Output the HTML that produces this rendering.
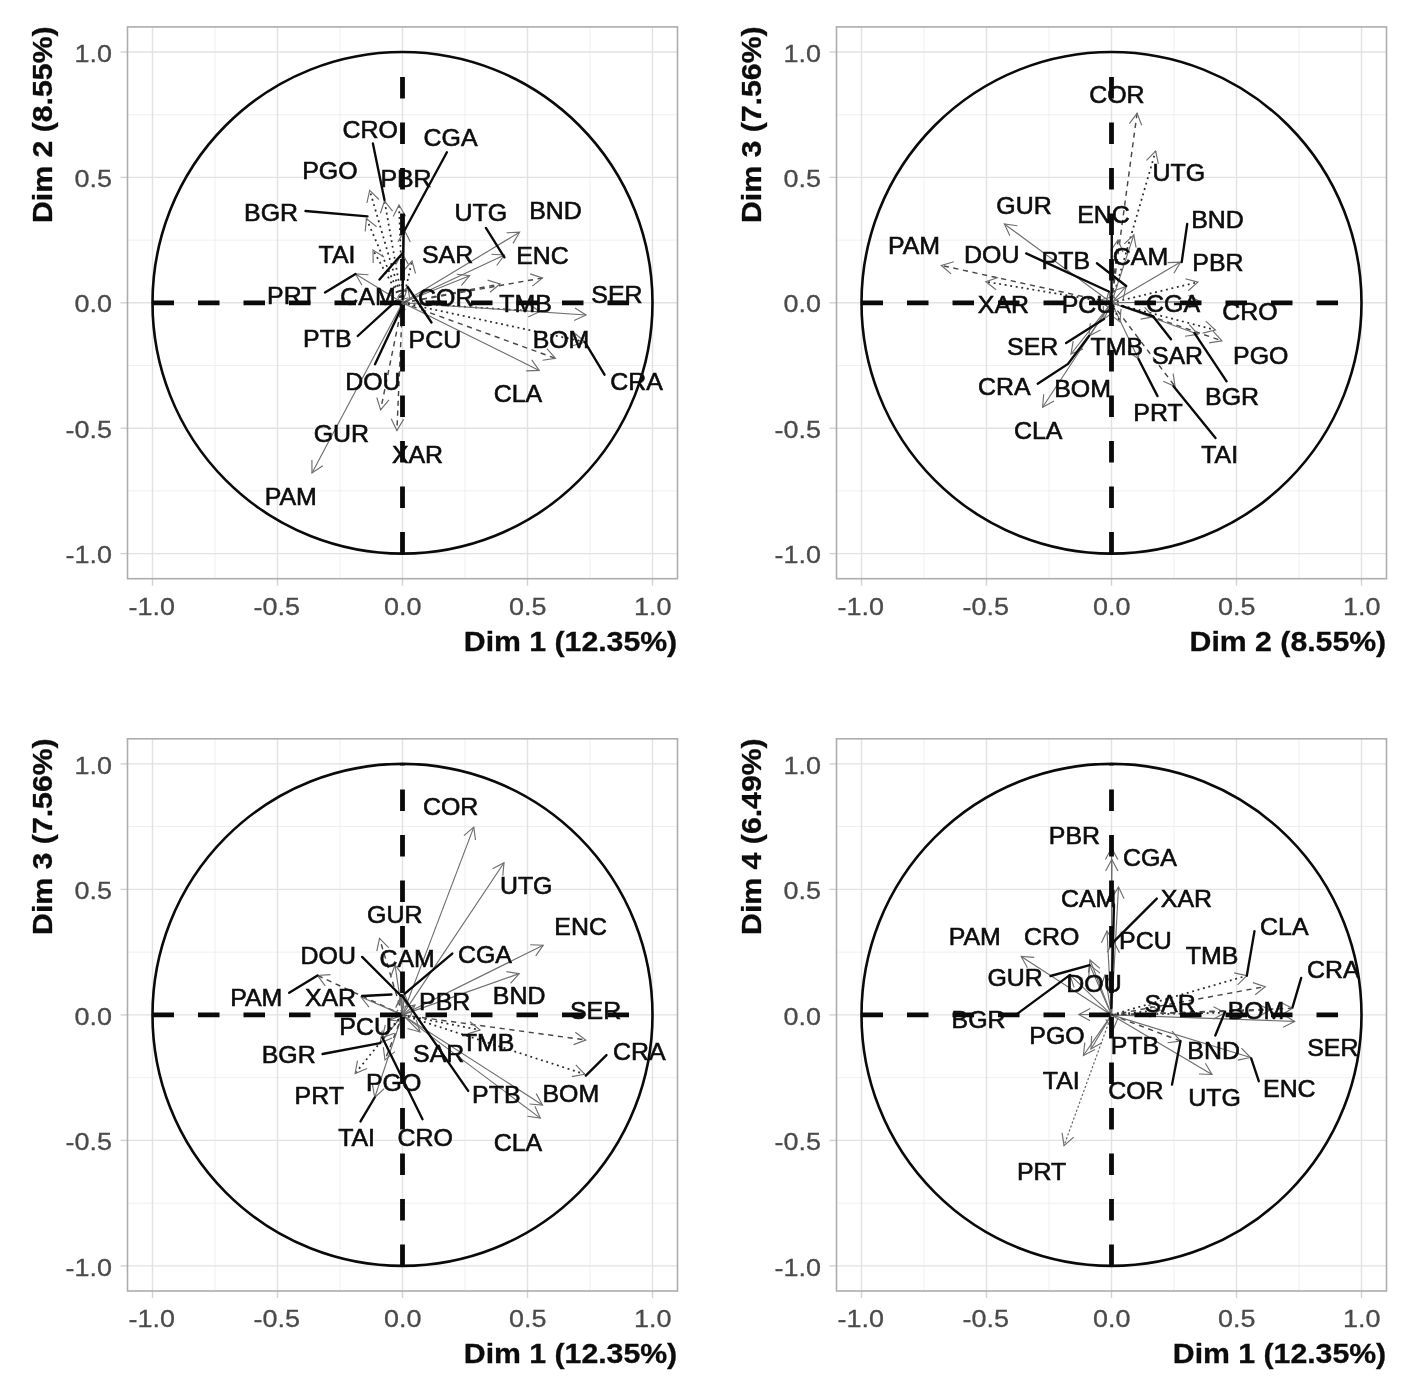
<!DOCTYPE html>
<html lang="en"><head><meta charset="utf-8"><title>PCA correlation circles</title>
<style>
html,body{margin:0;padding:0;background:#fff}
body{width:1417px;height:1379px;overflow:hidden}
svg{display:block;filter:blur(.45px);font-family:"Liberation Sans",sans-serif}
.gm{stroke:#efefef;stroke-width:1;fill:none}
.gM{stroke:#e2e2e2;stroke-width:1.4;fill:none}
.tk{stroke:#d2d2d2;stroke-width:1.4;fill:none}
.bd{stroke:#adadad;stroke-width:1.6;fill:none}
.tl{font-size:24.5px;fill:#4a4a4a;stroke:#4a4a4a;stroke-width:.3}
.at{font-size:27.5px;font-weight:bold;fill:#0c0c0c;stroke:#0c0c0c;stroke-width:.3}
.lb{font-size:24.2px;fill:#0c0c0c;stroke:#0c0c0c;stroke-width:.6}
.ci{stroke:#0a0a0a;stroke-width:2.6;fill:none}
.ax{stroke:#0a0a0a;stroke-width:4.8;stroke-dasharray:21.5 24;fill:none}
.cn{stroke:#0a0a0a;stroke-width:2.35;fill:none;stroke-linecap:round}
.as{stroke:#6e6e6e;stroke-width:1.15;fill:none}
.ad{stroke:#484848;stroke-width:1.45;stroke-dasharray:5.2 4.6;fill:none}
.ao{stroke:#2c2c2c;stroke-width:1.75;stroke-dasharray:1.9 3.7;fill:none}
.af{stroke:#666;stroke-width:1.2;stroke-dasharray:2.2 2;fill:none}
.ah{stroke:#6e6e6e;stroke-width:1.15;fill:none}
</style></head><body>
<svg width="1417" height="1379" viewBox="0 0 1417 1379">
<rect width="1417" height="1379" fill="#fff"/>
<g>
<path class="gm" d="M215 26.9V578.7"/>
<path class="gm" d="M127.5 490.9H677.5"/>
<path class="gm" d="M340 26.9V578.7"/>
<path class="gm" d="M127.5 365.5H677.5"/>
<path class="gm" d="M465 26.9V578.7"/>
<path class="gm" d="M127.5 240.1H677.5"/>
<path class="gm" d="M590 26.9V578.7"/>
<path class="gm" d="M127.5 114.7H677.5"/>
<path class="gM" d="M152.5 26.9V578.7"/>
<path class="gM" d="M127.5 553.6H677.5"/>
<path class="tk" d="M152.5 578.7v7"/>
<path class="tk" d="M127.5 553.6h-7"/>
<text class="tl" text-anchor="middle" transform="translate(151.7 615.1) scale(1.1 1)">-1.0</text>
<text class="tl" text-anchor="end" transform="translate(112 563.2) scale(1.1 1)">-1.0</text>
<path class="gM" d="M277.5 26.9V578.7"/>
<path class="gM" d="M127.5 428.2H677.5"/>
<path class="tk" d="M277.5 578.7v7"/>
<path class="tk" d="M127.5 428.2h-7"/>
<text class="tl" text-anchor="middle" transform="translate(276.7 615.1) scale(1.1 1)">-0.5</text>
<text class="tl" text-anchor="end" transform="translate(112 437.8) scale(1.1 1)">-0.5</text>
<path class="gM" d="M402.5 26.9V578.7"/>
<path class="gM" d="M127.5 302.8H677.5"/>
<path class="tk" d="M402.5 578.7v7"/>
<path class="tk" d="M127.5 302.8h-7"/>
<text class="tl" text-anchor="middle" transform="translate(402.8 615.1) scale(1.1 1)">0.0</text>
<text class="tl" text-anchor="end" transform="translate(112 312.4) scale(1.1 1)">0.0</text>
<path class="gM" d="M527.5 26.9V578.7"/>
<path class="gM" d="M127.5 177.4H677.5"/>
<path class="tk" d="M527.5 578.7v7"/>
<path class="tk" d="M127.5 177.4h-7"/>
<text class="tl" text-anchor="middle" transform="translate(527.8 615.1) scale(1.1 1)">0.5</text>
<text class="tl" text-anchor="end" transform="translate(112 187) scale(1.1 1)">0.5</text>
<path class="gM" d="M652.5 26.9V578.7"/>
<path class="gM" d="M127.5 52H677.5"/>
<path class="tk" d="M652.5 578.7v7"/>
<path class="tk" d="M127.5 52h-7"/>
<text class="tl" text-anchor="middle" transform="translate(652.8 615.1) scale(1.1 1)">1.0</text>
<text class="tl" text-anchor="end" transform="translate(112 61.6) scale(1.1 1)">1.0</text>
<rect class="bd" x="127.5" y="26.9" width="550" height="551.8"/>
<path class="ao" d="M402.5 302.8L369.7 190.3"/><path class="ah" d="M378.9 199.5L369.7 190.3L366.9 203"/>
<path class="ao" d="M402.5 302.8L384.5 201"/><path class="ah" d="M392.6 211.2L384.5 201L380.4 213.3"/>
<path class="ao" d="M402.5 302.8L366.4 218.6"/><path class="ah" d="M376.6 226.7L366.4 218.6L365.2 231.5"/>
<path class="ao" d="M402.5 302.8L399 205"/><path class="ah" d="M405.6 216.2L399 205L393.2 216.6"/>
<path class="ao" d="M402.5 302.8L373 250"/><path class="ah" d="M384 256.9L373 250L373.2 263"/>
<path class="as" d="M402.5 302.8L355.5 274"/><path class="ah" d="M368.5 274.7L355.5 274L362 285.3"/>
<path class="as" d="M402.5 302.8L402 253"/><path class="ah" d="M408.3 264.4L402 253L395.9 264.5"/>
<path class="as" d="M402.5 302.8L404.5 230.5"/><path class="ah" d="M410.4 242.1L404.5 230.5L398 241.7"/>
<path class="ao" d="M402.5 302.8L412 261"/><path class="ah" d="M415.5 273.5L412 261L403.4 270.8"/>
<path class="as" d="M402.5 302.8L469.6 275.7"/><path class="ah" d="M461.3 285.7L469.6 275.7L456.7 274.2"/>
<path class="as" d="M402.5 302.8L504.4 255"/><path class="ah" d="M496.7 265.5L504.4 255L491.4 254.2"/>
<path class="as" d="M402.5 302.8L519.6 232.2"/><path class="ah" d="M513 243.4L519.6 232.2L506.6 232.8"/>
<path class="ad" d="M402.5 302.8L542.5 278"/><path class="ah" d="M532.3 286.1L542.5 278L530.2 273.9"/>
<path class="ad" d="M402.5 302.8L500 284"/><path class="ah" d="M490 292.3L500 284L487.6 280.1"/>
<path class="ao" d="M402.5 302.8L540 311.5"/><path class="ah" d="M528.2 317L540 311.5L529 304.6"/>
<path class="as" d="M402.5 302.8L586 315"/><path class="ah" d="M574.2 320.4L586 315L575 308.1"/>
<path class="ad" d="M402.5 302.8L555.5 358.4"/><path class="ah" d="M542.6 360.3L555.5 358.4L546.9 348.7"/>
<path class="ao" d="M402.5 302.8L585 342"/><path class="ah" d="M572.5 345.7L585 342L575.1 333.5"/>
<path class="as" d="M402.5 302.8L539.2 370.4"/><path class="ah" d="M526.2 370.9L539.2 370.4L531.7 359.8"/>
<path class="as" d="M402.5 302.8L407.7 287"/><path class="ah" d="M410 299.8L407.7 287L398.2 295.9"/>
<path class="as" d="M402.5 302.8L395.8 301.2"/><path class="ah" d="M408.4 297.8L395.8 301.2L405.5 309.9"/>
<path class="as" d="M402.5 302.8L401 309"/><path class="ah" d="M397.7 296.4L401 309L409.7 299.4"/>
<path class="ad" d="M402.5 302.8L380.6 409.9"/><path class="ah" d="M376.8 397.5L380.6 409.9L389 399.9"/>
<path class="ad" d="M402.5 302.8L396.9 430.5"/><path class="ah" d="M391.2 418.8L396.9 430.5L403.6 419.4"/>
<path class="as" d="M402.5 302.8L312 473"/><path class="ah" d="M311.9 460L312 473L322.8 465.8"/>
<ellipse class="ci" cx="402.5" cy="302.8" rx="250" ry="250.8"/>
<path class="ax" d="M152.5 302.8H652.5"/>
<path class="ax" d="M402.5 553.6V52"/>
<path class="cn" d="M372.9 143.5L384.5 200"/>
<path class="cn" d="M403.4 236L402.6 299"/>
<path class="cn" d="M446.9 152.2L404.5 230.5"/>
<path class="cn" d="M305.5 211L367.5 216.4"/>
<path class="cn" d="M485.9 227.9L504.4 257.3"/>
<path class="cn" d="M325 292.5L355.5 274"/>
<path class="cn" d="M379.5 279.5L402.3 253.4"/>
<path class="cn" d="M357.7 336L395.8 301.2"/>
<path class="cn" d="M431.5 322.5L407.7 287"/>
<path class="cn" d="M375 364.3L401 308.8"/>
<path class="cn" d="M584.9 342.1L604.5 374.7"/>
<text class="lb" text-anchor="middle" transform="translate(370.1 138.1) scale(1.03 1)">CRO</text>
<text class="lb" text-anchor="middle" transform="translate(450.6 145.7) scale(1.03 1)">CGA</text>
<text class="lb" text-anchor="middle" transform="translate(329.9 179.4) scale(1.03 1)">PGO</text>
<text class="lb" text-anchor="middle" transform="translate(406 187.4) scale(1.03 1)">PBR</text>
<text class="lb" text-anchor="middle" transform="translate(271.1 221.2) scale(1.03 1)">BGR</text>
<text class="lb" text-anchor="middle" transform="translate(480.9 220.7) scale(1.03 1)">UTG</text>
<text class="lb" text-anchor="middle" transform="translate(555.5 218.5) scale(1.03 1)">BND</text>
<text class="lb" text-anchor="middle" transform="translate(337 262.5) scale(1.03 1)">TAI</text>
<text class="lb" text-anchor="middle" transform="translate(447.6 263.3) scale(1.03 1)">SAR</text>
<text class="lb" text-anchor="middle" transform="translate(542.5 264.2) scale(1.03 1)">ENC</text>
<text class="lb" text-anchor="middle" transform="translate(291.8 303.8) scale(1.03 1)">PRT</text>
<text class="lb" text-anchor="middle" transform="translate(368 304.7) scale(1.03 1)">CAM</text>
<text class="lb" text-anchor="middle" transform="translate(445.7 306.2) scale(1.03 1)">COR</text>
<text class="lb" text-anchor="middle" transform="translate(525.5 312.1) scale(1.03 1)">TMB</text>
<text class="lb" text-anchor="middle" transform="translate(616.9 303.4) scale(1.03 1)">SER</text>
<text class="lb" text-anchor="middle" transform="translate(327.3 346.7) scale(1.03 1)">PTB</text>
<text class="lb" text-anchor="middle" transform="translate(434.9 347.9) scale(1.03 1)">PCU</text>
<text class="lb" text-anchor="middle" transform="translate(561 348) scale(1.03 1)">BOM</text>
<text class="lb" text-anchor="middle" transform="translate(372.9 390) scale(1.03 1)">DOU</text>
<text class="lb" text-anchor="middle" transform="translate(517.9 402.3) scale(1.03 1)">CLA</text>
<text class="lb" text-anchor="middle" transform="translate(636.5 390.4) scale(1.03 1)">CRA</text>
<text class="lb" text-anchor="middle" transform="translate(341.4 441.8) scale(1.03 1)">GUR</text>
<text class="lb" text-anchor="middle" transform="translate(417.5 462.5) scale(1.03 1)">XAR</text>
<text class="lb" text-anchor="middle" transform="translate(290.7 504.9) scale(1.03 1)">PAM</text>
<text class="at" text-anchor="end" transform="translate(677.2 650.7) scale(1.1 1)">Dim 1 (12.35%)</text>
<text class="at" text-anchor="end" transform="translate(52 26.4) rotate(-90) scale(1.1 1)">Dim 2 (8.55%)</text>
</g>
<g>
<path class="gm" d="M924 26.9V578.7"/>
<path class="gm" d="M836.5 490.9H1386.5"/>
<path class="gm" d="M1049 26.9V578.7"/>
<path class="gm" d="M836.5 365.5H1386.5"/>
<path class="gm" d="M1174 26.9V578.7"/>
<path class="gm" d="M836.5 240.1H1386.5"/>
<path class="gm" d="M1299 26.9V578.7"/>
<path class="gm" d="M836.5 114.7H1386.5"/>
<path class="gM" d="M861.5 26.9V578.7"/>
<path class="gM" d="M836.5 553.6H1386.5"/>
<path class="tk" d="M861.5 578.7v7"/>
<path class="tk" d="M836.5 553.6h-7"/>
<text class="tl" text-anchor="middle" transform="translate(860.7 615.1) scale(1.1 1)">-1.0</text>
<text class="tl" text-anchor="end" transform="translate(821 563.2) scale(1.1 1)">-1.0</text>
<path class="gM" d="M986.5 26.9V578.7"/>
<path class="gM" d="M836.5 428.2H1386.5"/>
<path class="tk" d="M986.5 578.7v7"/>
<path class="tk" d="M836.5 428.2h-7"/>
<text class="tl" text-anchor="middle" transform="translate(985.7 615.1) scale(1.1 1)">-0.5</text>
<text class="tl" text-anchor="end" transform="translate(821 437.8) scale(1.1 1)">-0.5</text>
<path class="gM" d="M1111.5 26.9V578.7"/>
<path class="gM" d="M836.5 302.8H1386.5"/>
<path class="tk" d="M1111.5 578.7v7"/>
<path class="tk" d="M836.5 302.8h-7"/>
<text class="tl" text-anchor="middle" transform="translate(1111.8 615.1) scale(1.1 1)">0.0</text>
<text class="tl" text-anchor="end" transform="translate(821 312.4) scale(1.1 1)">0.0</text>
<path class="gM" d="M1236.5 26.9V578.7"/>
<path class="gM" d="M836.5 177.4H1386.5"/>
<path class="tk" d="M1236.5 578.7v7"/>
<path class="tk" d="M836.5 177.4h-7"/>
<text class="tl" text-anchor="middle" transform="translate(1236.8 615.1) scale(1.1 1)">0.5</text>
<text class="tl" text-anchor="end" transform="translate(821 187) scale(1.1 1)">0.5</text>
<path class="gM" d="M1361.5 26.9V578.7"/>
<path class="gM" d="M836.5 52H1386.5"/>
<path class="tk" d="M1361.5 578.7v7"/>
<path class="tk" d="M836.5 52h-7"/>
<text class="tl" text-anchor="middle" transform="translate(1361.8 615.1) scale(1.1 1)">1.0</text>
<text class="tl" text-anchor="end" transform="translate(821 61.6) scale(1.1 1)">1.0</text>
<rect class="bd" x="836.5" y="26.9" width="550" height="551.8"/>
<path class="ad" d="M1111.5 302.8L1137.1 113.1"/><path class="ah" d="M1141.7 125.3L1137.1 113.1L1129.4 123.6"/>
<path class="ao" d="M1111.5 302.8L1155.6 151.2"/><path class="ah" d="M1158.4 163.9L1155.6 151.2L1146.5 160.4"/>
<path class="as" d="M1111.5 302.8L1004.4 224"/><path class="ah" d="M1017.3 225.8L1004.4 224L1009.9 235.8"/>
<path class="ad" d="M1111.5 302.8L941.3 265.4"/><path class="ah" d="M953.8 261.8L941.3 265.4L951.1 273.9"/>
<path class="ao" d="M1111.5 302.8L985.9 281.7"/><path class="ah" d="M998.2 277.5L985.9 281.7L996.1 289.7"/>
<path class="as" d="M1111.5 302.8L1108.8 291.5"/><path class="ah" d="M1117.5 301.2L1108.8 291.5L1105.4 304.1"/>
<path class="as" d="M1111.5 302.8L1133.8 234.9"/><path class="ah" d="M1136.1 247.7L1133.8 234.9L1124.3 243.8"/>
<path class="ad" d="M1111.5 302.8L1118 240"/><path class="ah" d="M1123 252L1118 240L1110.7 250.7"/>
<path class="as" d="M1111.5 302.8L1180.6 262.1"/><path class="ah" d="M1173.9 273.2L1180.6 262.1L1167.6 262.6"/>
<path class="ao" d="M1111.5 302.8L1197.9 282.1"/><path class="ah" d="M1188.2 290.8L1197.9 282.1L1185.3 278.7"/>
<path class="as" d="M1111.5 302.8L1200 301.6"/><path class="ah" d="M1188.7 308L1200 301.6L1188.5 295.6"/>
<path class="ao" d="M1111.5 302.8L1215.3 330"/><path class="ah" d="M1202.7 333.1L1215.3 330L1205.8 321.1"/>
<path class="ad" d="M1111.5 302.8L1221.9 340.8"/><path class="ah" d="M1209.1 342.9L1221.9 340.8L1213.1 331.2"/>
<path class="as" d="M1111.5 302.8L1197.9 334.3"/><path class="ah" d="M1185 336.2L1197.9 334.3L1189.3 324.6"/>
<path class="as" d="M1111.5 302.8L1153.4 316.9"/><path class="ah" d="M1140.6 319.1L1153.4 316.9L1144.6 307.4"/>
<path class="ad" d="M1111.5 302.8L1175.1 386.5"/><path class="ah" d="M1163.2 381.2L1175.1 386.5L1173.1 373.7"/>
<path class="as" d="M1111.5 302.8L1138.5 359"/><path class="ah" d="M1128 351.4L1138.5 359L1139.1 346"/>
<path class="ao" d="M1111.5 302.8L1120 322"/><path class="ah" d="M1109.7 314.1L1120 322L1121 309"/>
<path class="as" d="M1111.5 302.8L1104 319"/><path class="ah" d="M1103.2 306L1104 319L1114.4 311.2"/>
<path class="as" d="M1111.5 302.8L1089 336"/><path class="ah" d="M1090.3 323.1L1089 336L1100.5 330"/>
<path class="as" d="M1111.5 302.8L1071 354"/><path class="ah" d="M1073.2 341.2L1071 354L1083 348.9"/>
<path class="as" d="M1111.5 302.8L1042.6 407.2"/><path class="ah" d="M1043.7 394.2L1042.6 407.2L1054.1 401.1"/>
<path class="as" d="M1111.5 302.8L1126.1 286.4"/><path class="ah" d="M1123.1 299.1L1126.1 286.4L1113.9 290.8"/>
<path class="as" d="M1111.5 302.8L1100 300"/><path class="ah" d="M1112.6 296.7L1100 300L1109.6 308.7"/>
<ellipse class="ci" cx="1111.5" cy="302.8" rx="250" ry="250.8"/>
<path class="ax" d="M861.5 302.8H1361.5"/>
<path class="ax" d="M1111.5 553.6V52"/>
<path class="cn" d="M1026.2 253.4L1108.8 291.5"/>
<path class="cn" d="M1111.8 234L1111.5 298"/>
<path class="cn" d="M1096.9 263.2L1126.2 286"/>
<path class="cn" d="M1187.2 224L1181.7 262.1"/>
<path class="cn" d="M1066.1 343L1104 319"/>
<path class="cn" d="M1037.7 383.7L1068 364L1089 336"/>
<path class="cn" d="M1138.5 359L1157.5 396.1"/>
<path class="cn" d="M1153 316.2L1171 339.3"/>
<path class="cn" d="M1122 306L1153.3 316.4"/>
<path class="cn" d="M1194.5 333.1L1226.6 381.3"/>
<path class="cn" d="M1173.5 386.2L1215.5 438.1"/>
<text class="lb" text-anchor="middle" transform="translate(1116.9 102.7) scale(1.03 1)">COR</text>
<text class="lb" text-anchor="middle" transform="translate(1178.8 181.4) scale(1.03 1)">UTG</text>
<text class="lb" text-anchor="middle" transform="translate(1024 213.6) scale(1.03 1)">GUR</text>
<text class="lb" text-anchor="middle" transform="translate(1103.5 222.5) scale(1.03 1)">ENC</text>
<text class="lb" text-anchor="middle" transform="translate(1217.5 228.1) scale(1.03 1)">BND</text>
<text class="lb" text-anchor="middle" transform="translate(914 253.8) scale(1.03 1)">PAM</text>
<text class="lb" text-anchor="middle" transform="translate(991.8 262.5) scale(1.03 1)">DOU</text>
<text class="lb" text-anchor="middle" transform="translate(1065.8 269.1) scale(1.03 1)">PTB</text>
<text class="lb" text-anchor="middle" transform="translate(1140.5 265.2) scale(1.03 1)">CAM</text>
<text class="lb" text-anchor="middle" transform="translate(1217.9 270.5) scale(1.03 1)">PBR</text>
<text class="lb" text-anchor="middle" transform="translate(1003.4 312.7) scale(1.03 1)">XAR</text>
<text class="lb" text-anchor="middle" transform="translate(1088 312.7) scale(1.03 1)">PCU</text>
<text class="lb" text-anchor="middle" transform="translate(1173 312) scale(1.03 1)">CGA</text>
<text class="lb" text-anchor="middle" transform="translate(1250 320.3) scale(1.03 1)">CRO</text>
<text class="lb" text-anchor="middle" transform="translate(1032.7 354.7) scale(1.03 1)">SER</text>
<text class="lb" text-anchor="middle" transform="translate(1116.7 355) scale(1.03 1)">TMB</text>
<text class="lb" text-anchor="middle" transform="translate(1177.5 363.7) scale(1.03 1)">SAR</text>
<text class="lb" text-anchor="middle" transform="translate(1260.7 363.7) scale(1.03 1)">PGO</text>
<text class="lb" text-anchor="middle" transform="translate(1004.3 395.4) scale(1.03 1)">CRA</text>
<text class="lb" text-anchor="middle" transform="translate(1082.6 396.7) scale(1.03 1)">BOM</text>
<text class="lb" text-anchor="middle" transform="translate(1232 405.3) scale(1.03 1)">BGR</text>
<text class="lb" text-anchor="middle" transform="translate(1158 421.3) scale(1.03 1)">PRT</text>
<text class="lb" text-anchor="middle" transform="translate(1038.2 438.6) scale(1.03 1)">CLA</text>
<text class="lb" text-anchor="middle" transform="translate(1219.7 462.8) scale(1.03 1)">TAI</text>
<text class="at" text-anchor="end" transform="translate(1386.2 650.7) scale(1.1 1)">Dim 2 (8.55%)</text>
<text class="at" text-anchor="end" transform="translate(761 26.4) rotate(-90) scale(1.1 1)">Dim 3 (7.56%)</text>
</g>
<g>
<path class="gm" d="M215 738.8V1291"/>
<path class="gm" d="M127.5 1203.2H677.5"/>
<path class="gm" d="M340 738.8V1291"/>
<path class="gm" d="M127.5 1077.7H677.5"/>
<path class="gm" d="M465 738.8V1291"/>
<path class="gm" d="M127.5 952.1H677.5"/>
<path class="gm" d="M590 738.8V1291"/>
<path class="gm" d="M127.5 826.6H677.5"/>
<path class="gM" d="M152.5 738.8V1291"/>
<path class="gM" d="M127.5 1265.9H677.5"/>
<path class="tk" d="M152.5 1291v7"/>
<path class="tk" d="M127.5 1265.9h-7"/>
<text class="tl" text-anchor="middle" transform="translate(151.7 1327.4) scale(1.1 1)">-1.0</text>
<text class="tl" text-anchor="end" transform="translate(112 1275.5) scale(1.1 1)">-1.0</text>
<path class="gM" d="M277.5 738.8V1291"/>
<path class="gM" d="M127.5 1140.4H677.5"/>
<path class="tk" d="M277.5 1291v7"/>
<path class="tk" d="M127.5 1140.4h-7"/>
<text class="tl" text-anchor="middle" transform="translate(276.7 1327.4) scale(1.1 1)">-0.5</text>
<text class="tl" text-anchor="end" transform="translate(112 1150) scale(1.1 1)">-0.5</text>
<path class="gM" d="M402.5 738.8V1291"/>
<path class="gM" d="M127.5 1014.9H677.5"/>
<path class="tk" d="M402.5 1291v7"/>
<path class="tk" d="M127.5 1014.9h-7"/>
<text class="tl" text-anchor="middle" transform="translate(402.8 1327.4) scale(1.1 1)">0.0</text>
<text class="tl" text-anchor="end" transform="translate(112 1024.5) scale(1.1 1)">0.0</text>
<path class="gM" d="M527.5 738.8V1291"/>
<path class="gM" d="M127.5 889.4H677.5"/>
<path class="tk" d="M527.5 1291v7"/>
<path class="tk" d="M127.5 889.4h-7"/>
<text class="tl" text-anchor="middle" transform="translate(527.8 1327.4) scale(1.1 1)">0.5</text>
<text class="tl" text-anchor="end" transform="translate(112 899) scale(1.1 1)">0.5</text>
<path class="gM" d="M652.5 738.8V1291"/>
<path class="gM" d="M127.5 763.9H677.5"/>
<path class="tk" d="M652.5 1291v7"/>
<path class="tk" d="M127.5 763.9h-7"/>
<text class="tl" text-anchor="middle" transform="translate(652.8 1327.4) scale(1.1 1)">1.0</text>
<text class="tl" text-anchor="end" transform="translate(112 773.5) scale(1.1 1)">1.0</text>
<rect class="bd" x="127.5" y="738.8" width="550" height="552.2"/>
<path class="as" d="M402.5 1014.9L473.8 827.1"/><path class="ah" d="M475.5 840L473.8 827.1L463.9 835.6"/>
<path class="as" d="M402.5 1014.9L504 862.7"/><path class="ah" d="M502.8 875.6L504 862.7L492.5 868.8"/>
<path class="as" d="M402.5 1014.9L543.2 945.3"/><path class="ah" d="M535.7 955.9L543.2 945.3L530.2 944.8"/>
<path class="as" d="M402.5 1014.9L519.2 973.6"/><path class="ah" d="M510.5 983.3L519.2 973.6L506.4 971.6"/>
<path class="as" d="M402.5 1014.9L404.5 993.9"/><path class="ah" d="M409.6 1005.9L404.5 993.9L397.2 1004.7"/>
<path class="ad" d="M402.5 1014.9L585.8 1040"/><path class="ah" d="M573.6 1044.6L585.8 1040L575.3 1032.3"/>
<path class="ao" d="M402.5 1014.9L584.7 1074.2"/><path class="ah" d="M571.9 1076.6L584.7 1074.2L575.8 1064.8"/>
<path class="as" d="M402.5 1014.9L542.5 1105"/><path class="ah" d="M529.5 1104L542.5 1105L536.2 1093.6"/>
<path class="as" d="M402.5 1014.9L540.3 1118.1"/><path class="ah" d="M527.4 1116.2L540.3 1118.1L534.9 1106.3"/>
<path class="ao" d="M402.5 1014.9L480 1030"/><path class="ah" d="M467.6 1033.9L480 1030L470 1021.7"/>
<path class="as" d="M402.5 1014.9L420 1032"/><path class="ah" d="M407.5 1028.5L420 1032L416.2 1019.6"/>
<path class="as" d="M402.5 1014.9L401.9 995.2"/><path class="ah" d="M408.4 1006.4L401.9 995.2L396 1006.8"/>
<path class="as" d="M402.5 1014.9L415 1005"/><path class="ah" d="M409.9 1017L415 1005L402.2 1007.2"/>
<path class="ad" d="M402.5 1014.9L379.5 938.4"/><path class="ah" d="M388.7 947.6L379.5 938.4L376.8 951.1"/>
<path class="as" d="M402.5 1014.9L395 965"/><path class="ah" d="M402.8 975.4L395 965L390.6 977.2"/>
<path class="as" d="M402.5 1014.9L401.2 996"/><path class="ah" d="M408.2 1007L401.2 996L395.8 1007.8"/>
<path class="ad" d="M402.5 1014.9L317.5 975.4"/><path class="ah" d="M330.5 974.6L317.5 975.4L325.2 985.8"/>
<path class="as" d="M402.5 1014.9L361 997"/><path class="ah" d="M373.9 995.8L361 997L369 1007.2"/>
<path class="as" d="M402.5 1014.9L390 1020"/><path class="ah" d="M398.2 1009.9L390 1020L402.9 1021.4"/>
<path class="as" d="M402.5 1014.9L380.1 1043.1"/><path class="ah" d="M382.3 1030.3L380.1 1043.1L392.1 1038"/>
<path class="ao" d="M402.5 1014.9L355.1 1073.5"/><path class="ah" d="M357.5 1060.7L355.1 1073.5L367.1 1068.5"/>
<path class="as" d="M402.5 1014.9L374.7 1097.5"/><path class="ah" d="M372.5 1084.7L374.7 1097.5L384.2 1088.7"/>
<path class="ad" d="M402.5 1014.9L385 1060"/><path class="ah" d="M383.3 1047.1L385 1060L394.9 1051.6"/>
<path class="ao" d="M402.5 1014.9L382.3 1037.6"/><path class="ah" d="M385.3 1024.9L382.3 1037.6L394.5 1033.2"/>
<ellipse class="ci" cx="402.5" cy="1014.9" rx="250" ry="251"/>
<path class="ax" d="M152.5 1014.9H652.5"/>
<path class="ax" d="M402.5 1265.9V763.9"/>
<path class="cn" d="M289.2 992.8L317.5 975.4"/>
<path class="cn" d="M362.1 956.9L401.2 996"/>
<path class="cn" d="M452.3 953.6L404.5 993.9"/>
<path class="cn" d="M362.1 996L391.4 994.5"/>
<path class="cn" d="M322.5 1054L380.1 1043.1"/>
<path class="cn" d="M360.5 1121.4L374.7 1097.5"/>
<path class="cn" d="M422.5 1119.2L382.3 1037.6"/>
<path class="cn" d="M468.2 1090.9L401.9 995.2"/>
<path class="cn" d="M606.5 1055.1L585.8 1075.7"/>
<text class="lb" text-anchor="middle" transform="translate(450.6 815) scale(1.03 1)">COR</text>
<text class="lb" text-anchor="middle" transform="translate(526.2 893.6) scale(1.03 1)">UTG</text>
<text class="lb" text-anchor="middle" transform="translate(394.7 922.5) scale(1.03 1)">GUR</text>
<text class="lb" text-anchor="middle" transform="translate(580.6 934.9) scale(1.03 1)">ENC</text>
<text class="lb" text-anchor="middle" transform="translate(328.3 963.8) scale(1.03 1)">DOU</text>
<text class="lb" text-anchor="middle" transform="translate(407.1 967.1) scale(1.03 1)">CAM</text>
<text class="lb" text-anchor="middle" transform="translate(484.9 962.7) scale(1.03 1)">CGA</text>
<text class="lb" text-anchor="middle" transform="translate(256.2 1005.8) scale(1.03 1)">PAM</text>
<text class="lb" text-anchor="middle" transform="translate(330.5 1005.8) scale(1.03 1)">XAR</text>
<text class="lb" text-anchor="middle" transform="translate(444.7 1010.1) scale(1.03 1)">PBR</text>
<text class="lb" text-anchor="middle" transform="translate(519.1 1004.4) scale(1.03 1)">BND</text>
<text class="lb" text-anchor="middle" transform="translate(595.6 1018.5) scale(1.03 1)">SER</text>
<text class="lb" text-anchor="middle" transform="translate(365.6 1034.7) scale(1.03 1)">PCU</text>
<text class="lb" text-anchor="middle" transform="translate(488 1050.6) scale(1.03 1)">TMB</text>
<text class="lb" text-anchor="middle" transform="translate(288.7 1063.1) scale(1.03 1)">BGR</text>
<text class="lb" text-anchor="middle" transform="translate(438.7 1062) scale(1.03 1)">SAR</text>
<text class="lb" text-anchor="middle" transform="translate(639.3 1059.9) scale(1.03 1)">CRA</text>
<text class="lb" text-anchor="middle" transform="translate(393.6 1091.4) scale(1.03 1)">PGO</text>
<text class="lb" text-anchor="middle" transform="translate(319.2 1104.4) scale(1.03 1)">PRT</text>
<text class="lb" text-anchor="middle" transform="translate(496.3 1103.3) scale(1.03 1)">PTB</text>
<text class="lb" text-anchor="middle" transform="translate(570.8 1102.3) scale(1.03 1)">BOM</text>
<text class="lb" text-anchor="middle" transform="translate(356.6 1145.8) scale(1.03 1)">TAI</text>
<text class="lb" text-anchor="middle" transform="translate(425.1 1145.8) scale(1.03 1)">CRO</text>
<text class="lb" text-anchor="middle" transform="translate(517.9 1150.7) scale(1.03 1)">CLA</text>
<text class="at" text-anchor="end" transform="translate(677.2 1363) scale(1.1 1)">Dim 1 (12.35%)</text>
<text class="at" text-anchor="end" transform="translate(52 738.3) rotate(-90) scale(1.1 1)">Dim 3 (7.56%)</text>
</g>
<g>
<path class="gm" d="M924 738.8V1291"/>
<path class="gm" d="M836.5 1203.2H1386.5"/>
<path class="gm" d="M1049 738.8V1291"/>
<path class="gm" d="M836.5 1077.7H1386.5"/>
<path class="gm" d="M1174 738.8V1291"/>
<path class="gm" d="M836.5 952.1H1386.5"/>
<path class="gm" d="M1299 738.8V1291"/>
<path class="gm" d="M836.5 826.6H1386.5"/>
<path class="gM" d="M861.5 738.8V1291"/>
<path class="gM" d="M836.5 1265.9H1386.5"/>
<path class="tk" d="M861.5 1291v7"/>
<path class="tk" d="M836.5 1265.9h-7"/>
<text class="tl" text-anchor="middle" transform="translate(860.7 1327.4) scale(1.1 1)">-1.0</text>
<text class="tl" text-anchor="end" transform="translate(821 1275.5) scale(1.1 1)">-1.0</text>
<path class="gM" d="M986.5 738.8V1291"/>
<path class="gM" d="M836.5 1140.4H1386.5"/>
<path class="tk" d="M986.5 1291v7"/>
<path class="tk" d="M836.5 1140.4h-7"/>
<text class="tl" text-anchor="middle" transform="translate(985.7 1327.4) scale(1.1 1)">-0.5</text>
<text class="tl" text-anchor="end" transform="translate(821 1150) scale(1.1 1)">-0.5</text>
<path class="gM" d="M1111.5 738.8V1291"/>
<path class="gM" d="M836.5 1014.9H1386.5"/>
<path class="tk" d="M1111.5 1291v7"/>
<path class="tk" d="M836.5 1014.9h-7"/>
<text class="tl" text-anchor="middle" transform="translate(1111.8 1327.4) scale(1.1 1)">0.0</text>
<text class="tl" text-anchor="end" transform="translate(821 1024.5) scale(1.1 1)">0.0</text>
<path class="gM" d="M1236.5 738.8V1291"/>
<path class="gM" d="M836.5 889.4H1386.5"/>
<path class="tk" d="M1236.5 1291v7"/>
<path class="tk" d="M836.5 889.4h-7"/>
<text class="tl" text-anchor="middle" transform="translate(1236.8 1327.4) scale(1.1 1)">0.5</text>
<text class="tl" text-anchor="end" transform="translate(821 899) scale(1.1 1)">0.5</text>
<path class="gM" d="M1361.5 738.8V1291"/>
<path class="gM" d="M836.5 763.9H1386.5"/>
<path class="tk" d="M1361.5 1291v7"/>
<path class="tk" d="M836.5 763.9h-7"/>
<text class="tl" text-anchor="middle" transform="translate(1361.8 1327.4) scale(1.1 1)">1.0</text>
<text class="tl" text-anchor="end" transform="translate(821 773.5) scale(1.1 1)">1.0</text>
<rect class="bd" x="836.5" y="738.8" width="550" height="552.2"/>
<path class="as" d="M1111.5 1014.9L1111.8 859.5"/><path class="ah" d="M1118 870.9L1111.8 859.5L1105.6 870.9"/>
<path class="as" d="M1111.5 1014.9L1111.6 848"/><path class="ah" d="M1117.8 859.4L1111.6 848L1105.4 859.4"/>
<path class="as" d="M1111.5 1014.9L1118.5 887"/><path class="ah" d="M1124.1 898.7L1118.5 887L1111.7 898.1"/>
<path class="as" d="M1111.5 1014.9L1113.6 941.2"/><path class="ah" d="M1119.5 952.8L1113.6 941.2L1107.1 952.4"/>
<path class="as" d="M1111.5 1014.9L1107 931"/><path class="ah" d="M1113.8 942.1L1107 931L1101.4 942.7"/>
<path class="as" d="M1111.5 1014.9L1021.2 956.4"/><path class="ah" d="M1034.2 957.4L1021.2 956.4L1027.4 967.8"/>
<path class="as" d="M1111.5 1014.9L1090 960"/><path class="ah" d="M1099.9 968.4L1090 960L1088.4 972.9"/>
<path class="as" d="M1111.5 1014.9L1089.7 965.1"/><path class="ah" d="M1100 973.1L1089.7 965.1L1088.6 978.1"/>
<path class="as" d="M1111.5 1014.9L1105 975"/><path class="ah" d="M1113 985.3L1105 975L1100.7 987.3"/>
<path class="as" d="M1111.5 1014.9L1070.1 974.9"/><path class="ah" d="M1082.6 978.4L1070.1 974.9L1074 987.3"/>
<path class="as" d="M1111.5 1014.9L1078.8 1014.5"/><path class="ah" d="M1090.3 1008.4L1078.8 1014.5L1090.1 1020.8"/>
<path class="as" d="M1111.5 1014.9L1083.4 1055.5"/><path class="ah" d="M1084.8 1042.6L1083.4 1055.5L1095 1049.6"/>
<path class="as" d="M1111.5 1014.9L1091 1049"/><path class="ah" d="M1091.6 1036L1091 1049L1102.2 1042.4"/>
<path class="af" d="M1111.5 1014.9L1064 1145.7"/><path class="ah" d="M1062.1 1132.8L1064 1145.7L1073.7 1137.1"/>
<path class="as" d="M1111.5 1014.9L1113 1030"/><path class="ah" d="M1105.7 1019.2L1113 1030L1118 1018"/>
<path class="ad" d="M1111.5 1014.9L1180.5 1041"/><path class="ah" d="M1167.6 1042.8L1180.5 1041L1172 1031.2"/>
<path class="as" d="M1111.5 1014.9L1212 1074.5"/><path class="ah" d="M1199 1074L1212 1074.5L1205.3 1063.3"/>
<path class="ao" d="M1111.5 1014.9L1225 1012.7"/><path class="ah" d="M1213.7 1019.1L1225 1012.7L1213.5 1006.7"/>
<path class="as" d="M1111.5 1014.9L1250.5 1057.5"/><path class="ah" d="M1237.8 1060.1L1250.5 1057.5L1241.4 1048.2"/>
<path class="as" d="M1111.5 1014.9L1294.7 1021.4"/><path class="ah" d="M1283.1 1027.2L1294.7 1021.4L1283.5 1014.8"/>
<path class="ad" d="M1111.5 1014.9L1270 1010"/><path class="ah" d="M1258.8 1016.6L1270 1010L1258.4 1004.2"/>
<path class="ad" d="M1111.5 1014.9L1292.5 1008.3"/><path class="ah" d="M1281.3 1014.9L1292.5 1008.3L1280.9 1002.5"/>
<path class="ao" d="M1111.5 1014.9L1246.8 975.7"/><path class="ah" d="M1237.6 984.8L1246.8 975.7L1234.1 972.9"/>
<path class="ad" d="M1111.5 1014.9L1265.3 986.6"/><path class="ah" d="M1255.2 994.8L1265.3 986.6L1252.9 982.6"/>
<path class="ao" d="M1111.5 1014.9L1160 1010"/><path class="ah" d="M1149.3 1017.3L1160 1010L1148 1005"/>
<ellipse class="ci" cx="1111.5" cy="1014.9" rx="250" ry="251"/>
<path class="ax" d="M861.5 1014.9H1361.5"/>
<path class="ax" d="M1111.5 1265.9V763.9"/>
<path class="cn" d="M1156.8 898.6L1113.3 942.1"/>
<path class="cn" d="M1114 904.5L1111.3 1008"/>
<path class="cn" d="M1050.5 976L1089.7 965.1"/>
<path class="cn" d="M1016.8 1014.1L1070.1 974.9"/>
<path class="cn" d="M1254.5 931.1L1246.8 975.7"/>
<path class="cn" d="M1301.2 977.9L1292.5 1007.3"/>
<path class="cn" d="M1225.1 1011.6L1215.3 1035.5"/>
<path class="cn" d="M1180.5 1041L1172 1084.6"/>
<path class="cn" d="M1251.2 1058.4L1258.8 1081.2"/>
<text class="lb" text-anchor="middle" transform="translate(1074.4 843.7) scale(1.03 1)">PBR</text>
<text class="lb" text-anchor="middle" transform="translate(1149.9 865.5) scale(1.03 1)">CGA</text>
<text class="lb" text-anchor="middle" transform="translate(1088.6 906.8) scale(1.03 1)">CAM</text>
<text class="lb" text-anchor="middle" transform="translate(1186.4 906.7) scale(1.03 1)">XAR</text>
<text class="lb" text-anchor="middle" transform="translate(974.8 944.9) scale(1.03 1)">PAM</text>
<text class="lb" text-anchor="middle" transform="translate(1051.6 944.9) scale(1.03 1)">CRO</text>
<text class="lb" text-anchor="middle" transform="translate(1145.4 949.1) scale(1.03 1)">PCU</text>
<text class="lb" text-anchor="middle" transform="translate(1284.3 934.8) scale(1.03 1)">CLA</text>
<text class="lb" text-anchor="middle" transform="translate(1212 964.3) scale(1.03 1)">TMB</text>
<text class="lb" text-anchor="middle" transform="translate(1333.2 978.3) scale(1.03 1)">CRA</text>
<text class="lb" text-anchor="middle" transform="translate(1015.1 986.2) scale(1.03 1)">GUR</text>
<text class="lb" text-anchor="middle" transform="translate(1094 991.7) scale(1.03 1)">DOU</text>
<text class="lb" text-anchor="middle" transform="translate(1170.1 1011.6) scale(1.03 1)">SAR</text>
<text class="lb" text-anchor="middle" transform="translate(1256 1018.6) scale(1.03 1)">BOM</text>
<text class="lb" text-anchor="middle" transform="translate(978.6 1028.1) scale(1.03 1)">BGR</text>
<text class="lb" text-anchor="middle" transform="translate(1057 1044.4) scale(1.03 1)">PGO</text>
<text class="lb" text-anchor="middle" transform="translate(1134.9 1053.6) scale(1.03 1)">PTB</text>
<text class="lb" text-anchor="middle" transform="translate(1213.6 1059.2) scale(1.03 1)">BND</text>
<text class="lb" text-anchor="middle" transform="translate(1332.8 1055.5) scale(1.03 1)">SER</text>
<text class="lb" text-anchor="middle" transform="translate(1061.3 1089.1) scale(1.03 1)">TAI</text>
<text class="lb" text-anchor="middle" transform="translate(1135.9 1099.3) scale(1.03 1)">COR</text>
<text class="lb" text-anchor="middle" transform="translate(1214.6 1105.7) scale(1.03 1)">UTG</text>
<text class="lb" text-anchor="middle" transform="translate(1289.3 1096.9) scale(1.03 1)">ENC</text>
<text class="lb" text-anchor="middle" transform="translate(1041.6 1179.9) scale(1.03 1)">PRT</text>
<text class="at" text-anchor="end" transform="translate(1386.2 1363) scale(1.1 1)">Dim 1 (12.35%)</text>
<text class="at" text-anchor="end" transform="translate(761 738.3) rotate(-90) scale(1.1 1)">Dim 4 (6.49%)</text>
</g>
</svg></body></html>
